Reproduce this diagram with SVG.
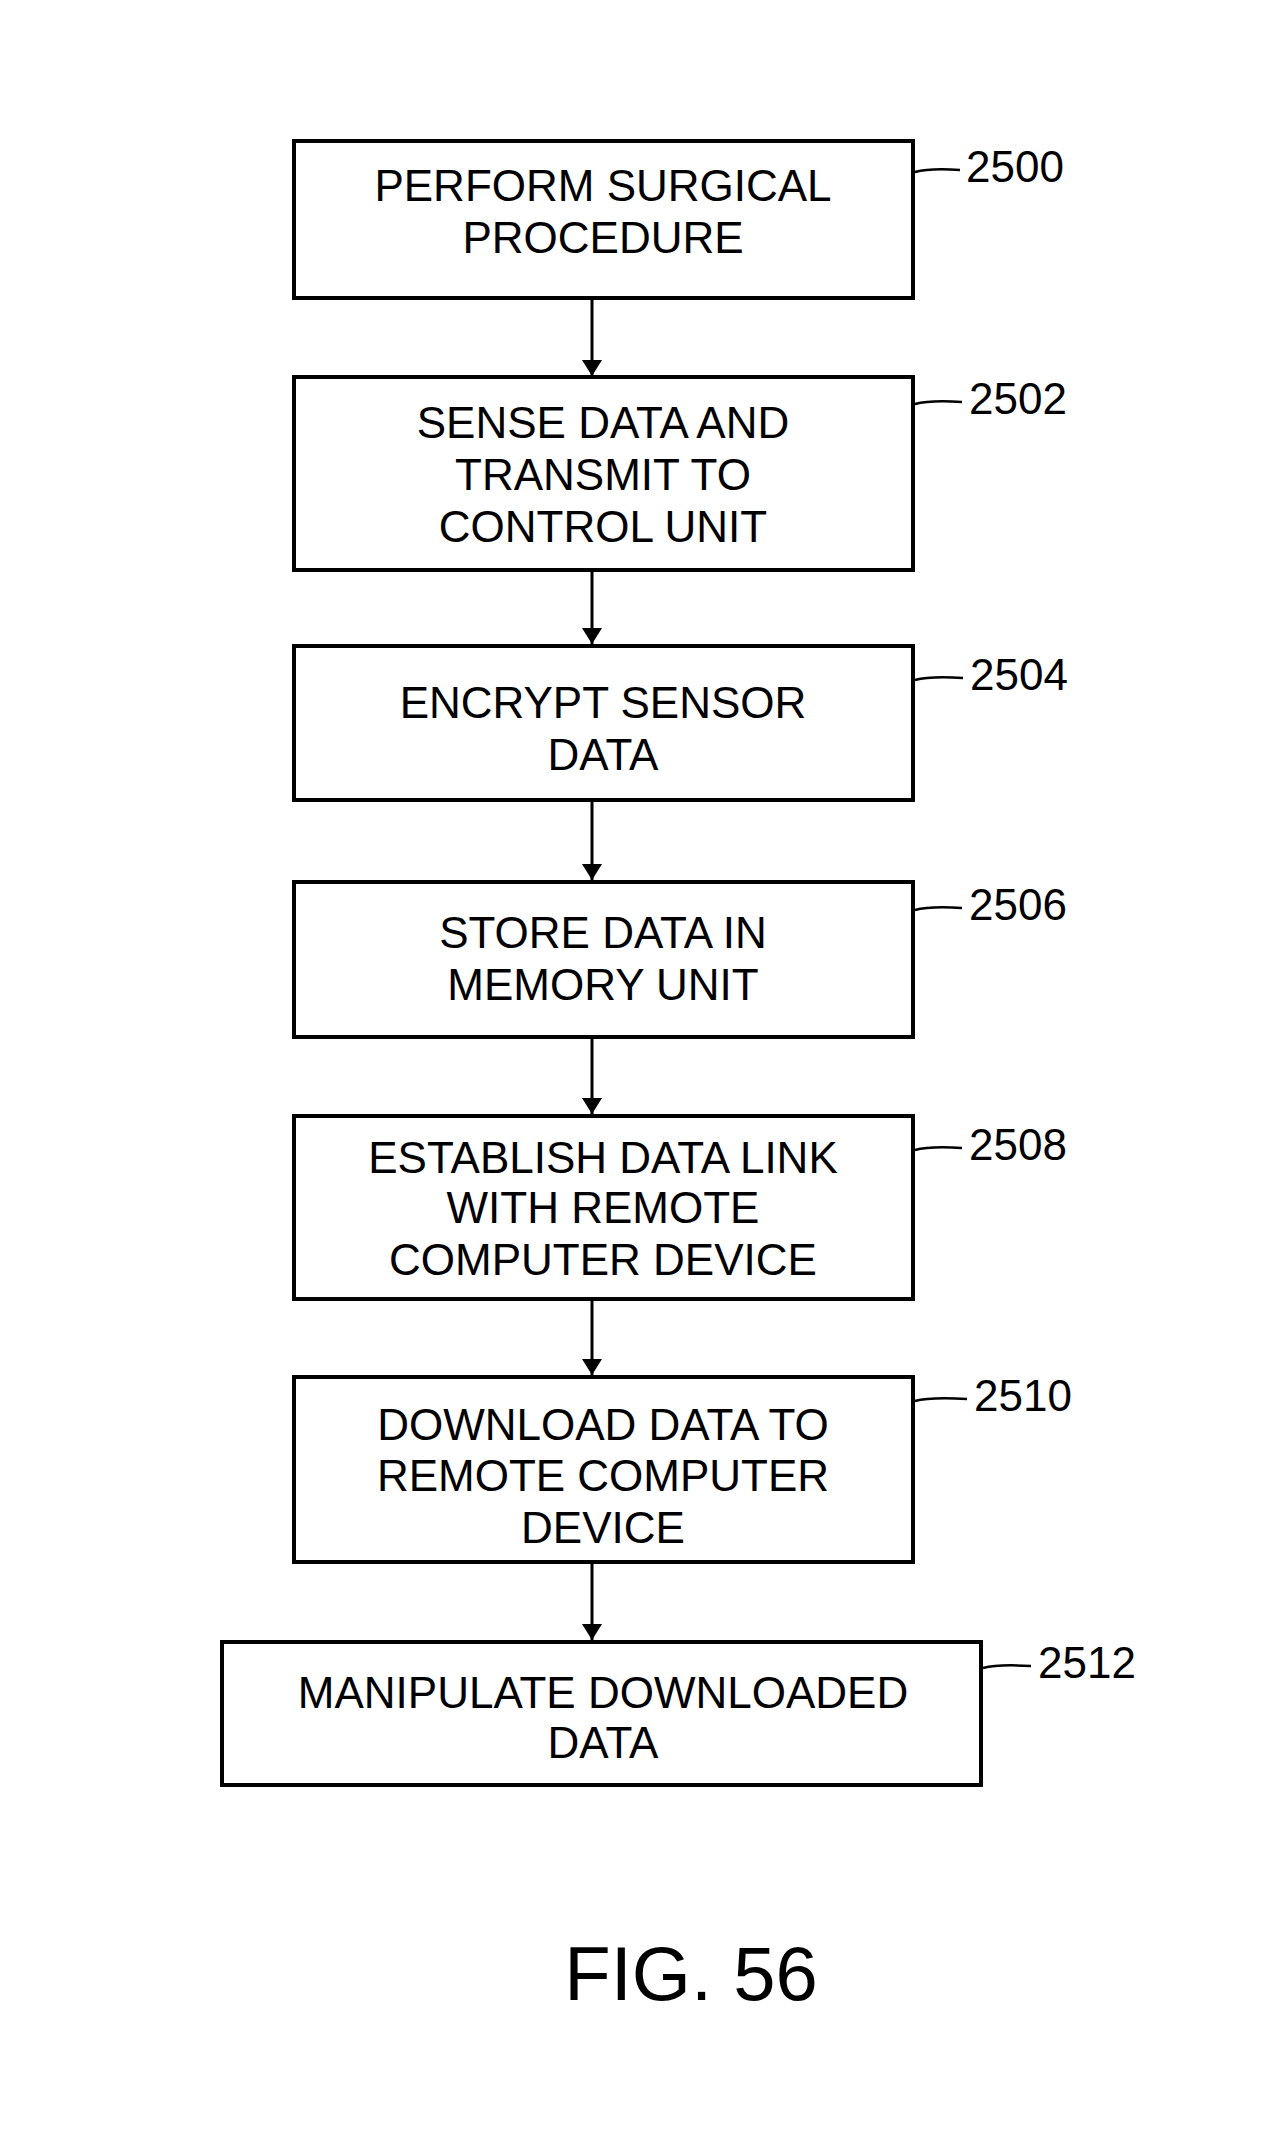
<svg xmlns="http://www.w3.org/2000/svg" width="1279" height="2132" viewBox="0 0 1279 2132">
<style>
rect{fill:#fff;stroke:#000;stroke-width:4}
text{font-family:"Liberation Sans",Arial,sans-serif;font-size:44px;fill:#000}
.c{text-anchor:middle}
.ld{fill:none;stroke:#000;stroke-width:2.5}
.ar{stroke:#000;stroke-width:3;marker-end:url(#a)}
</style>
<defs><marker id="a" viewBox="0 0 10 10" refX="10" refY="5" markerWidth="8" markerHeight="8" markerUnits="userSpaceOnUse" orient="auto"><path d="M0,0L10,5L0,10z"/></marker></defs>
<rect width="1279" height="2132" fill="#fff" style="stroke:none"/>
<g id="connectors">
<line class="ar" x1="592" y1="300" x2="592" y2="375" style="marker-end:none"/><path d="M582,360L592,376L602,360z"/>
<line class="ar" x1="592" y1="572" x2="592" y2="644" style="marker-end:none"/><path d="M582,628L592,644L602,628z"/>
<line class="ar" x1="592" y1="802" x2="592" y2="880" style="marker-end:none"/><path d="M582,864L592,880L602,864z"/>
<line class="ar" x1="592" y1="1039" x2="592" y2="1114" style="marker-end:none"/><path d="M582,1098L592,1114L602,1098z"/>
<line class="ar" x1="592" y1="1301" x2="592" y2="1375" style="marker-end:none"/><path d="M582,1359L592,1375L602,1359z"/>
<line class="ar" x1="592" y1="1564" x2="592" y2="1640" style="marker-end:none"/><path d="M582,1624L592,1640L602,1624z"/>
</g>
<g id="n2500"><rect x="294" y="141" width="619" height="157"/><text class="c" x="603" y="201">PERFORM SURGICAL</text><text class="c" x="603" y="253">PROCEDURE</text><path class="ld" d="M915,172Q930,168 960,170"/><text x="966" y="182">2500</text></g>
<g id="n2502"><rect x="294" y="377" width="619" height="193"/><text class="c" x="603" y="438">SENSE DATA AND</text><text class="c" x="603" y="490">TRANSMIT TO</text><text class="c" x="603" y="542">CONTROL UNIT</text><path class="ld" d="M915,404Q930,400 962,402"/><text x="969" y="414">2502</text></g>
<g id="n2504"><rect x="294" y="646" width="619" height="154"/><text class="c" x="603" y="718">ENCRYPT SENSOR</text><text class="c" x="603" y="770">DATA</text><path class="ld" d="M915,680Q930,676 963,678"/><text x="970" y="690">2504</text></g>
<g id="n2506"><rect x="294" y="882" width="619" height="155"/><text class="c" x="603" y="948">STORE DATA IN</text><text class="c" x="603" y="1000">MEMORY UNIT</text><path class="ld" d="M915,910Q930,906 962,908"/><text x="969" y="920">2506</text></g>
<g id="n2508"><rect x="294" y="1116" width="619" height="183"/><text class="c" x="603" y="1173">ESTABLISH DATA LINK</text><text class="c" x="603" y="1223">WITH REMOTE</text><text class="c" x="603" y="1275">COMPUTER DEVICE</text><path class="ld" d="M915,1150Q930,1146 962,1148"/><text x="969" y="1160">2508</text></g>
<g id="n2510"><rect x="294" y="1377" width="619" height="185"/><text class="c" x="603" y="1440">DOWNLOAD DATA TO</text><text class="c" x="603" y="1491">REMOTE COMPUTER</text><text class="c" x="603" y="1543">DEVICE</text><path class="ld" d="M915,1401Q930,1397 967,1399"/><text x="974" y="1411">2510</text></g>
<g id="n2512"><rect x="222" y="1642" width="759" height="143"/><text class="c" x="603" y="1708">MANIPULATE DOWNLOADED</text><text class="c" x="603" y="1758">DATA</text><path class="ld" d="M983,1668Q998,1664 1031,1666"/><text x="1038" y="1678">2512</text></g>
<text class="c" x="691" y="2000" style="font-size:76px">FIG. 56</text>
</svg>
